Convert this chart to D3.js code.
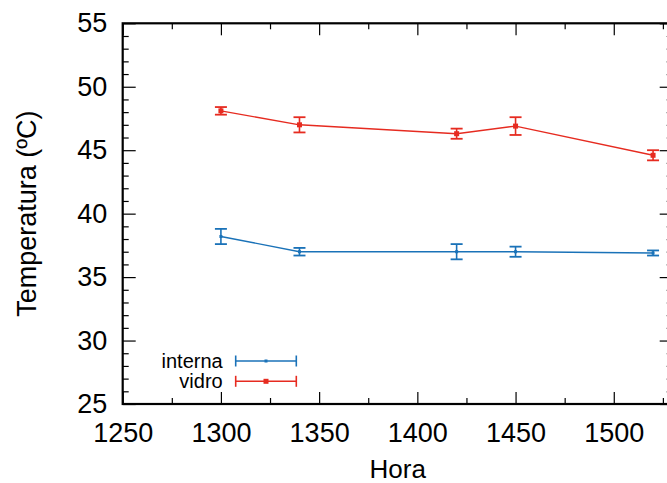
<!DOCTYPE html>
<html>
<head>
<meta charset="utf-8">
<script src="https://cdn.jsdelivr.net/npm/d3@7"></script>
<style>
  body { margin: 0; background: #fff; }
  svg { display: block; font-family: "Liberation Sans", Arial, sans-serif; }
  .tick text { font-size: 27px; fill: #000; }
</style>
</head>
<body>
<svg id="chart" width="667" height="483"></svg>
<script>
// temperatura vs hora, interna e vidro
var hora = [1300, 1340, 1420, 1450, 1520];
var interna = [38.2, 37.0, 37.0, 37.0, 36.9];
var internaErr = [0.6, 0.3, 0.6, 0.4, 0.2];
var vidro = [48.1, 47.0, 46.3, 46.9, 44.6];
var vidroErr = [0.3, 0.6, 0.4, 0.7, 0.4];
var seriesNames = ['interna', 'vidro'];
var xTicks = [1250, 1300, 1350, 1400, 1450, 1500];
var yTicks = [25, 30, 35, 40, 45, 50, 55];

var colors = { interna: '#1a72b8', vidro: '#e62b20' };

var margin = { left: 122.7, top: 23.3 },
    width = 550, height = 380.7;

var svg = d3.select('#chart');
var g = svg.append('g').attr('transform', 'translate(' + margin.left + ',' + margin.top + ')');

var x = d3.scaleLinear().domain([1250, 1530]).range([0, width]);
var y = d3.scaleLinear().domain([25, 55]).range([height, 0]);

var xMinor = d3.range(1275, 1530, 50);
var yMinor = d3.range(25, 55.1, 1).filter(function(v) { return v % 5 != 0; });

function cleanAxis(sel) {
  sel.select('.domain').remove();
  sel.selectAll('.tick line').attr('stroke', '#000').attr('stroke-width', 1.2);
}

// major ticks with labels
g.append('g')
  .attr('transform', 'translate(0,' + height + ')')
  .call(d3.axisBottom(x).tickValues(xTicks).tickSizeInner(-12).tickSizeOuter(0).tickPadding(19).tickFormat(d3.format('d')))
  .call(cleanAxis);
g.append('g')
  .call(d3.axisLeft(y).tickValues(yTicks).tickSizeInner(-13).tickSizeOuter(0).tickPadding(15.5))
  .call(cleanAxis);
// mirror ticks
g.append('g')
  .call(d3.axisTop(x).tickValues(xTicks).tickSizeInner(-12).tickSizeOuter(0).tickFormat(''))
  .call(cleanAxis);
g.append('g')
  .attr('transform', 'translate(' + width + ',0)')
  .call(d3.axisRight(y).tickValues(yTicks).tickSizeInner(-13).tickSizeOuter(0).tickFormat(''))
  .call(cleanAxis);
// minor ticks
g.append('g')
  .attr('transform', 'translate(0,' + height + ')')
  .call(d3.axisBottom(x).tickValues(xMinor).tickSizeInner(-6).tickSizeOuter(0).tickFormat(''))
  .call(cleanAxis);
g.append('g')
  .call(d3.axisTop(x).tickValues(xMinor).tickSizeInner(-6).tickSizeOuter(0).tickFormat(''))
  .call(cleanAxis);
g.append('g')
  .call(d3.axisLeft(y).tickValues(yMinor).tickSizeInner(-6).tickSizeOuter(0).tickFormat(''))
  .call(cleanAxis);
g.append('g')
  .attr('transform', 'translate(' + width + ',0)')
  .call(d3.axisRight(y).tickValues(yMinor).tickSizeInner(-6).tickSizeOuter(0).tickFormat(''))
  .call(cleanAxis);

// border
g.append('rect')
  .attr('width', width).attr('height', height)
  .attr('fill', 'none').attr('stroke', '#000').attr('stroke-width', 2.2);

// axis labels
svg.append('text')
  .attr('x', margin.left + width / 2).attr('y', 478)
  .attr('text-anchor', 'middle').attr('font-size', 26)
  .text('Hora');
svg.append('text')
  .attr('transform', 'translate(36,' + (margin.top + height / 2) + ') rotate(-90)')
  .attr('text-anchor', 'middle').attr('font-size', 27)
  .text('Temperatura (ºC)');

// series
var series = [
  { name: 'interna', vals: interna, errs: internaErr, marker: 3 },
  { name: 'vidro', vals: vidro, errs: vidroErr, marker: 5 }
];

var line = d3.line()
  .x(function(d) { return x(d.h); })
  .y(function(d) { return y(d.v); });

series.forEach(function(s) {
  var pts = hora.map(function(h, i) { return { h: h, v: s.vals[i], e: s.errs[i] }; });
  var c = colors[s.name];
  var sg = g.append('g');

  sg.append('path')
    .datum(pts)
    .attr('d', line)
    .attr('fill', 'none').attr('stroke', c).attr('stroke-width', 1.4);

  var eb = sg.selectAll('.eb').data(pts).enter().append('g');
  eb.append('line')
    .attr('x1', function(d) { return x(d.h); }).attr('x2', function(d) { return x(d.h); })
    .attr('y1', function(d) { return y(d.v - d.e); }).attr('y2', function(d) { return y(d.v + d.e); })
    .attr('stroke', c).attr('stroke-width', 1.6);
  [-1, 1].forEach(function(sign) {
    eb.append('line')
      .attr('x1', function(d) { return x(d.h) - 6; }).attr('x2', function(d) { return x(d.h) + 6; })
      .attr('y1', function(d) { return y(d.v + sign * d.e); }).attr('y2', function(d) { return y(d.v + sign * d.e); })
      .attr('stroke', c).attr('stroke-width', 1.8);
  });
  eb.append('rect')
    .attr('x', function(d) { return x(d.h) - s.marker / 2; })
    .attr('y', function(d) { return y(d.v) - s.marker / 2; })
    .attr('width', s.marker).attr('height', s.marker)
    .attr('fill', c);
});

// legend
var legend = svg.append('g');
series.forEach(function(s, i) {
  var ly = 361 + i * 20.3;
  var c = colors[s.name];
  legend.append('text')
    .attr('x', 222.7).attr('y', ly).attr('dy', '0.35em')
    .attr('text-anchor', 'end').attr('font-size', 20)
    .text(s.name);
  legend.append('line')
    .attr('x1', 235.7).attr('x2', 296.3).attr('y1', ly).attr('y2', ly)
    .attr('stroke', c).attr('stroke-width', 1.4);
  [235.7, 296.3].forEach(function(lx) {
    legend.append('line')
      .attr('x1', lx).attr('x2', lx).attr('y1', ly - 5.5).attr('y2', ly + 5.5)
      .attr('stroke', c).attr('stroke-width', 1.6);
  });
  legend.append('rect')
    .attr('x', 266 - s.marker / 2).attr('y', ly - s.marker / 2)
    .attr('width', s.marker).attr('height', s.marker)
    .attr('fill', c);
});
</script>
</body>
</html>
